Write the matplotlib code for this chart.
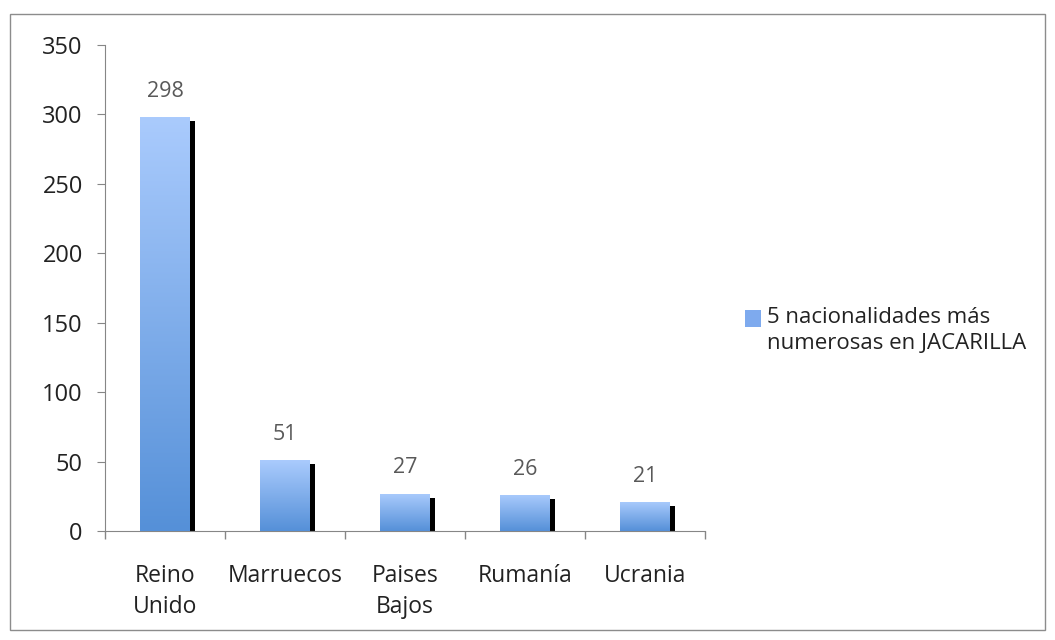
import numpy as np
import matplotlib
matplotlib.use("Agg")
import matplotlib.pyplot as plt
from matplotlib.patches import Rectangle
from matplotlib.colors import LinearSegmentedColormap

plt.rcParams["font.family"] = ["Open Sans", "DejaVu Sans"]

categories = ["Reino\nUnido", "Marruecos", "Paises\nBajos", "Rumanía", "Ucrania"]
values = [298, 51, 27, 26, 21]
series_name = "5 nacionalidades más\nnumerosas en JACARILLA"

W, H = 1055, 640
fig = plt.figure(figsize=(W / 100, H / 100), dpi=100)
ax = fig.add_axes([105 / W, 109 / H, 600 / W, 486 / H])

# outer chart border
fig.patches.append(Rectangle((10 / W, 10 / H), 1035 / W, 616 / H,
                             transform=fig.transFigure, fill=False,
                             edgecolor="#8c8c8c", linewidth=1))

grad = LinearSegmentedColormap.from_list("g", ["#5590d8", "#aacbfd"])
width = 0.41
shadow_w = 0.045
x = np.arange(len(values))

for xi, v in zip(x, values):
    left = xi - width / 2
    # black shadow on the right side
    ax.add_patch(Rectangle((left + width, 0), shadow_w, v - 3,
                           facecolor="black", edgecolor="none", zorder=2))
    bar = Rectangle((left, 0), width, v, facecolor="none", edgecolor="none", zorder=3)
    ax.add_patch(bar)
    img = ax.imshow(np.linspace(0, 1, 256).reshape(-1, 1), cmap=grad,
                    extent=[left, left + width, 0, v], origin="lower",
                    aspect="auto", zorder=3)
    img.set_clip_path(bar)
    ax.text(xi, v + 11, str(v), ha="center", va="bottom",
            fontsize=15.5, color="#595959")

ax.set_xlim(-0.5, len(values) - 0.5)
ax.set_ylim(0, 350)
ax.set_yticks(range(0, 351, 50))
ax.set_xticks(x)
ax.set_xticklabels(categories, fontsize=16.5, color="#222222", linespacing=1.35)
ax.set_xticks(np.arange(-0.5, len(values), 1), minor=True)
ax.tick_params(axis="x", which="major", length=0, pad=24)
ax.tick_params(axis="x", which="minor", length=6, color="#868686", width=1)
ax.tick_params(axis="y", length=6, color="#868686", labelsize=17, pad=10,
               labelcolor="#222222")
for s in ["top", "right"]:
    ax.spines[s].set_visible(False)
for s in ["left", "bottom"]:
    ax.spines[s].set_color("#868686")

# legend drawn by hand: square key next to the first line of text
fig.patches.append(Rectangle((745 / W, 1 - 327 / H), 16 / W, 17 / H,
                             transform=fig.transFigure,
                             facecolor="#7eaaee", edgecolor="none"))
fig.text(767 / W, 1 - 307 / H, series_name, ha="left", va="top",
         fontsize=16, color="#222222", linespacing=1.3)

fig.savefig("out.png", dpi=100)
